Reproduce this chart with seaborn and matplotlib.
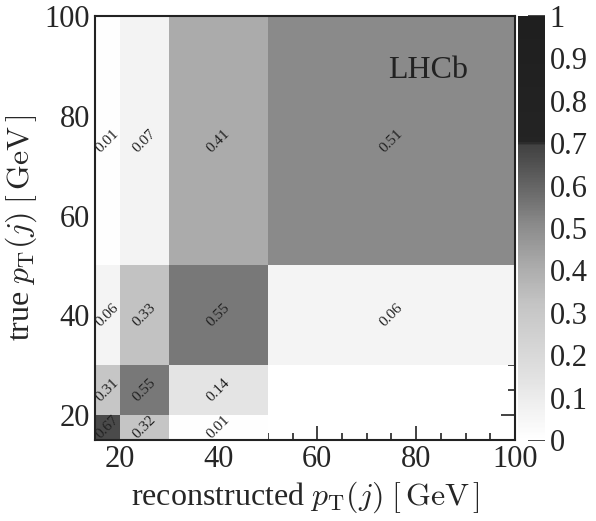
import numpy as np
import pandas as pd
import seaborn as sns
import matplotlib.pyplot as plt
from matplotlib.colors import LinearSegmentedColormap
from matplotlib.ticker import MultipleLocator

# bin edges in GeV
x_edges = [15, 20, 30, 50, 100]
y_edges = [15, 20, 30, 50, 100]

# migration matrix, rows = true bins (low -> high), cols = reconstructed bins
fractions = [
    [0.67, 0.32, 0.01, 0.00],
    [0.31, 0.55, 0.14, 0.00],
    [0.06, 0.33, 0.55, 0.06],
    [0.01, 0.07, 0.41, 0.51],
]

sns.set_style('ticks')
plt.rcParams['font.family'] = ['Liberation Serif', 'DejaVu Serif']
plt.rcParams['mathtext.fontset'] = 'cm'

# grey scale
grey = LinearSegmentedColormap.from_list('lhcb_grey', [
    (0.0, (1.0, 1.0, 1.0)),
    (0.07, (0.95, 0.95, 0.95)),
    (0.14, (0.89, 0.89, 0.89)),
    (0.32, (0.77, 0.77, 0.77)),
    (0.41, (0.67, 0.67, 0.67)),
    (0.51, (0.54, 0.54, 0.54)),
    (0.55, (0.47, 0.47, 0.47)),
    (0.67, (0.29, 0.29, 0.29)),
    (0.695, (0.26, 0.26, 0.26)),
    (0.705, (0.14, 0.14, 0.14)),
    (1.0, (0.12, 0.12, 0.12)),
])

# one entry per cell, weighted by its fraction
x_cent = [(a + b) / 2 for a, b in zip(x_edges[:-1], x_edges[1:])]
y_cent = [(a + b) / 2 for a, b in zip(y_edges[:-1], y_edges[1:])]
rows = []
for i, yc in enumerate(y_cent):
    for j, xc in enumerate(x_cent):
        rows.append({'reco': xc, 'true': yc, 'frac': fractions[i][j]})
df = pd.DataFrame(rows)

fig = plt.figure(figsize=(5.96, 5.21), dpi=100)
ax = fig.add_axes([95 / 596, 81 / 521, 420 / 596, 424 / 521])
cax = fig.add_axes([518 / 596, 81 / 521, 27 / 596, 424 / 521])

sns.histplot(df, x='reco', y='true', weights='frac',
             bins=[x_edges, y_edges], cmap=grey, vmin=0, vmax=1,
             cbar=True, cbar_ax=cax, ax=ax)

# cell labels
for _, r in df.iterrows():
    if r['frac'] > 0:
        ax.text(r['reco'], r['true'], f"{r['frac']:.2f}", rotation=45,
                ha='center', va='center', fontsize=11, color='#222222',
                family=['Liberation Serif', 'DejaVu Serif'])

ax.text(82.5, 89, 'LHCb', fontsize=23, ha='center', va='center', color='#222222')

ax.set_xlim(15, 100)
ax.set_ylim(15, 100)
ax.set_xlabel(r'reconstructed $p_{\rm T}(j)$ $[\,{\rm GeV}\,]$', fontsize=23)
ax.set_ylabel(r'true $p_{\rm T}(j)$ $[\,{\rm GeV}\,]$', fontsize=23)
ax.xaxis.set_major_locator(MultipleLocator(20))
ax.xaxis.set_minor_locator(MultipleLocator(5))
ax.yaxis.set_major_locator(MultipleLocator(20))
ax.yaxis.set_minor_locator(MultipleLocator(5))
ax.tick_params(which='both', direction='in', top=True, right=True,
               labelsize=22, color='#222222', width=1.2)
ax.tick_params(which='major', length=10)
ax.tick_params(which='minor', length=5)
for s in ax.spines.values():
    s.set_linewidth(1.5)
    s.set_color('#222222')

cax.set_yticks(np.arange(0, 1.01, 0.1))
cax.set_yticklabels(['0'] + [f'{v:.1f}' for v in np.arange(0.1, 0.95, 0.1)] + ['1'])
cax.tick_params(direction='in', length=12, labelsize=22, width=1.2)
cax.minorticks_off()
for s in cax.spines.values():
    s.set_visible(False)

fig.savefig('out.png', dpi=100)
